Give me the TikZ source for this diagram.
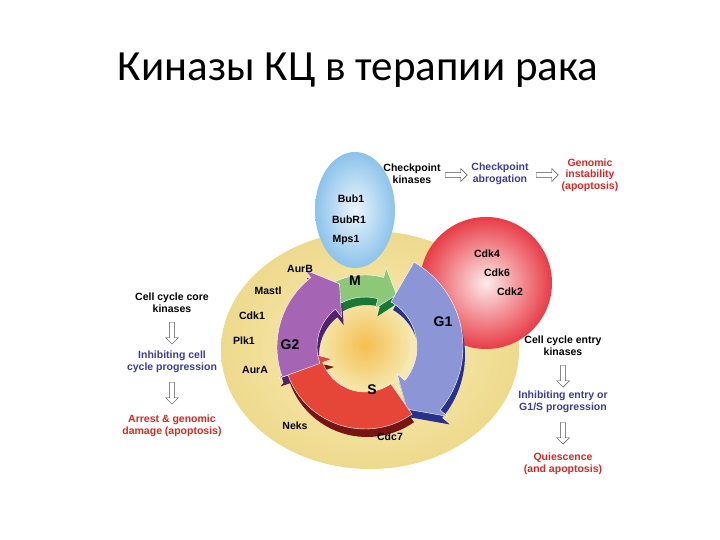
\documentclass[tikz,border=0pt]{standalone}
\usepackage{fontspec}
\setmainfont{Liberation Sans}
\newfontfamily\titlefont{Carlito}
\usetikzlibrary{shapes.arrows}
\newcommand\phasearrow[5]{%
 \path[#1] ({#2}:{#5}) arc[start angle={#2},end angle={#3},radius={#5}] -- ({#3}:{#5+10}) -- ({#3-16}:{(#4+#5)/2}) -- ({#3}:{#4-10}) -- ({#3}:{#4}) arc[start angle={#3},end angle={#2},radius={#4}] -- cycle;}
\tikzset{lbl/.style={font=\bfseries\fontsize{10.5}{11.5}\selectfont,align=center,inner sep=1pt},
 blu/.style={lbl,text={rgb,255:red,60;green,60;blue,150}},
 rd/.style={lbl,text={rgb,255:red,215;green,40;blue,40}},
 harr/.style={single arrow,draw=black!70,fill=white,minimum height=22pt,minimum width=13pt,single arrow head extend=2pt,inner sep=1pt},
 varr/.style={harr,shape border rotate=270},
 ph/.style={font=\bfseries\fontsize{14}{14}\selectfont,inner sep=0pt}}
\begin{document}
\begin{tikzpicture}[x=1pt,y=1pt]
\useasboundingbox[fill=white] (0,0) rectangle (720,540);
\node[font=\titlefont\fontsize{43}{48}\selectfont] (title) at (358,470) {Киназы КЦ в терапии рака};
% yellow cell
\shade[inner color={rgb,255:red,250;green,238;blue,190},outer color={rgb,255:red,238;green,218;blue,140}] (370,190) ellipse[x radius=149,y radius=119];
\shade[inner color={rgb,255:red,245;green,190;blue,80},outer color={rgb,255:red,245;green,230;blue,170}] (365,195) circle[radius=45];
% blue ellipse
\shade[inner color={rgb,255:red,235;green,245;blue,252},outer color={rgb,255:red,140;green,195;blue,235}] (355,330) ellipse[x radius=40,y radius=58];
% red circle
\shade[inner color={rgb,255:red,252;green,235;blue,235},outer color={rgb,255:red,232;green,60;blue,70}] (486,257) circle[radius=66];
\begin{scope}[shift={(365,193)}]
\begin{scope}[shift={(2,-8)}]
\phasearrow{fill={rgb,255:red,25;green,120;blue,55}}{125}{75}{50}{72}
\phasearrow{fill={rgb,255:red,40;green,50;blue,140}}{60}{-40}{52}{98}
\phasearrow{fill={rgb,255:red,120;green,20;blue,20}}{-55}{-160}{45}{82}
\phasearrow{fill={rgb,255:red,80;green,35;blue,110}}{200}{128}{48}{88}
\end{scope}
\phasearrow{fill={rgb,255:red,140;green,200;blue,120},draw=white}{125}{75}{50}{72}
\phasearrow{fill={rgb,255:red,140;green,150;blue,215},draw=white}{60}{-40}{52}{98}
\phasearrow{fill={rgb,255:red,230;green,70;blue,55},draw=white}{-55}{-160}{45}{82}
\phasearrow{fill={rgb,255:red,165;green,100;blue,180},draw=white}{200}{128}{48}{88}
\end{scope}
\node[ph] (m) at (355,259) {M};
\node[ph] (g1) at (443,218) {G1};
\node[ph] (g2) at (290,195) {G2};
\node[ph] (s) at (372,150) {S};
\node[lbl] (bub1) at (351,341) {Bub1};
\node[lbl] (bubr1) at (349,320) {BubR1};
\node[lbl] (mps1) at (346,300) {Mps1};
\node[lbl] (cdk4) at (487,286) {Cdk4};
\node[lbl] (cdk6) at (497,267) {Cdk6};
\node[lbl] (cdk2) at (510,248) {Cdk2};
\node[lbl] (aurb) at (300,271) {AurB};
\node[lbl] (mastl) at (268,249) {Mastl};
\node[lbl] (cdk1) at (252,224) {Cdk1};
\node[lbl] (plk1) at (244,199) {Plk1};
\node[lbl] (aura) at (255,170) {AurA};
\node[lbl] (neks) at (295,114) {Neks};
\node[lbl] (cdc7) at (390,103) {Cdc7};
\node[lbl] (ck) at (412,366) {Checkpoint\\kinases};
\node[harr] (a1) at (455,365) {};
\node[blu] (ca) at (500,366) {Checkpoint\\abrogation};
\node[harr] (a2) at (546,365) {};
\node[rd] (gi) at (590,365) {Genomic\\instability\\(apoptosis)};
\node[lbl] (core) at (172,237) {Cell cycle core\\kinases};
\node[varr] (a3) at (172,208) {};
\node[blu] (inh) at (172,178) {Inhibiting cell\\cycle progression};
\node[varr] (a4) at (172,148) {};
\node[rd] (arr) at (172,114) {Arrest \& genomic\\damage (apoptosis)};
\node[lbl] (entry) at (563,194) {Cell cycle entry\\kinases};
\node[varr] (a5) at (563,165) {};
\node[blu] (inh2) at (563,138) {Inhibiting entry or\\G1/S progression};
\node[varr] (a6) at (563,108) {};
\node[rd] (q) at (563,76) {Quiescence\\(and apoptosis)};
\end{tikzpicture}
\end{document}
